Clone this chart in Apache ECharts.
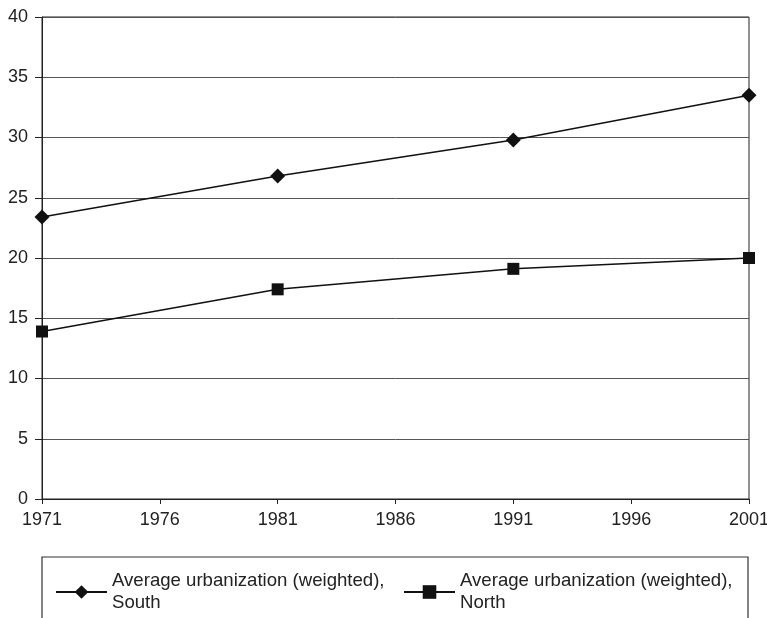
<!DOCTYPE html>
<html>
<head>
<meta charset="utf-8">
<script src="https://cdn.jsdelivr.net/npm/echarts@6/dist/echarts.min.js"></script>
<style>
  html, body { margin: 0; padding: 0; background: #fff; }
  #chart { width: 767px; height: 618px; }
</style>
</head>
<body>
<div id="chart"></div>
<script>
// data
var years = [1971, 1981, 1991, 2001];
var south = [23.4, 26.8, 29.8, 33.5];
var north = [13.9, 17.4, 19.1, 20.0];
var southName = "Average urbanization (weighted),\nSouth";
var northName = "Average urbanization (weighted),\nNorth";

var myChart = echarts.init(document.getElementById("chart"));

function pairs(xs, ys) {
  return xs.map(function(x, i) { return [x, ys[i]]; });
}

var font = "Liberation Sans, Arial, sans-serif";

var option = {
  animation: false,
  textStyle: { fontFamily: font },
  grid: {
    left: 42,
    right: 18,
    top: 17,
    bottom: 119,
    outerBoundsMode: "none",
    containLabel: false,
    show: true,
    borderColor: "#222",
    borderWidth: 1
  },
  xAxis: {
    type: "value",
    min: 1971,
    max: 2001,
    interval: 5,
    axisLine: { lineStyle: { color: "#222" } },
    axisTick: { show: true, length: 5, lineStyle: { color: "#222" } },
    axisLabel: {
      color: "#222", fontSize: 18, margin: 12, fontFamily: font,
      formatter: function(v) { return String(v); }
    },
    splitLine: { show: false }
  },
  yAxis: {
    type: "value",
    min: 0,
    max: 40,
    interval: 5,
    axisLine: { show: true, lineStyle: { color: "#222" } },
    axisTick: { show: true, length: 7, lineStyle: { color: "#222" } },
    axisLabel: { color: "#222", fontSize: 18, margin: 14, fontFamily: font },
    splitLine: { show: true, lineStyle: { color: "#555", width: 1 } }
  },
  legend: [{
    data: [southName],
    left: 55,
    top: 570,
    padding: 0,
    itemWidth: 51,
    itemHeight: 17,
    textStyle: { fontSize: 18.6, color: "#222", lineHeight: 22, fontFamily: font }
  }, {
    data: [northName],
    left: 403,
    top: 570,
    padding: 0,
    itemWidth: 51,
    itemHeight: 17,
    textStyle: { fontSize: 18.6, color: "#222", lineHeight: 22, fontFamily: font }
  }],
  graphic: [{
    type: "rect",
    shape: { x: 42, y: 557, width: 706, height: 80 },
    style: { fill: "none", stroke: "#333", lineWidth: 1.2 },
    silent: true
  }],
  series: [{
    name: southName,
    type: "line",
    data: pairs(years, south),
    symbol: "diamond",
    symbolSize: 15,
    color: "#111",
    lineStyle: { color: "#111", width: 1.5 },
    itemStyle: { color: "#111" }
  }, {
    name: northName,
    type: "line",
    data: pairs(years, north),
    symbol: "rect",
    symbolSize: 12,
    color: "#111",
    lineStyle: { color: "#111", width: 1.5 },
    itemStyle: { color: "#111" }
  }]
};

myChart.setOption(option);
</script>
</body>
</html>
